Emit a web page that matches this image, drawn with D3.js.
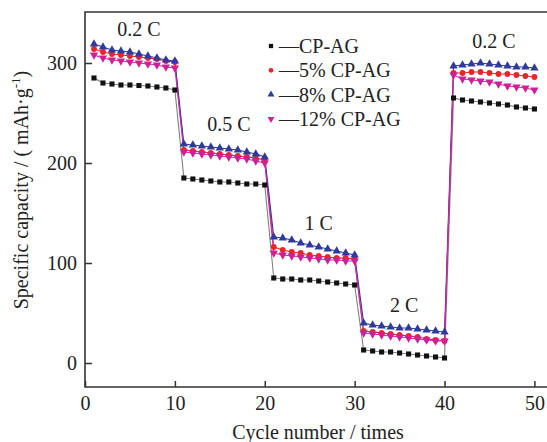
<!DOCTYPE html>
<html>
<head>
<meta charset="utf-8">
<script src="https://cdn.jsdelivr.net/npm/d3@7"></script>
<style>
  body { margin: 0; background: #fff; }
  svg text { font-family: "Liberation Serif", "DejaVu Serif", serif; fill: #222; }
</style>
</head>
<body>
<svg id="chart" width="547" height="442"></svg>
<script>
// cycle numbers 1..50
var cycles = [1,2,3,4,5,6,7,8,9,10,11,12,13,14,15,16,17,18,19,20,21,22,23,24,25,26,27,28,29,30,31,32,33,34,35,36,37,38,39,40,41,42,43,44,45,46,47,48,49,50];

var cpag = [285,280,279,278,278,277.5,277,276,275,273,
            185,184,183,182,181,181,180,179,179,178,
            85,84,84,83,83,82,81,80,79,78,
            13,12,11,11,10,9,8,7,6,5,
            265,263,262,261,260,259,258,256,255,254];
var cp5 = [314,311,309,308,307,306,305,304,302,301,
           213,212,211,210,209,208,207,206,205,203,
           116,113,111,110,108,107,106,105,105,104,
           32,31,30,29,28,27,26,24,23,22,
           290,290,291,291,290,289,289,288,287,286];
var cp8 = [319,316,313,312,311,309,307,305,303,302,
           219,218,217,216,215,214,213,211,209,206,
           126,125,123,120,118,116,114,112,110,108,
           40,38,37,36,35,35,34,33,32,31,
           297,298,299,300,299,298,297,296,296,295];
var cp12 = [308,305,303,302,301,300,299,298,296,295,
            211,210,209,208,207,206,205,204,202,200,
            110,108,107,106,105,104,103,103,102,102,
            30,29,28,27,26,25,24,23,22,22,
            288,284,283,282,281,279,277,276,275,273];

var seriesNames = ["—CP-AG", "—5% CP-AG", "—8% CP-AG", "—12% CP-AG"];
var rateLabels = ["0.2 C", "0.5 C", "1 C", "2 C", "0.2 C"];
var rateX = [6, 16, 26, 35.5, 45.5];
var rateY = [327, 232, 133, 51, 315];
var xTicks = [0,10,20,30,40,50];
var yTicks = [0,100,200,300];

var svg = d3.select("svg#chart");
var mLeft = 85, mRight = 547, mTop = 12, mBottom = 387;

var x = d3.scaleLinear().domain([0, 51.4]).range([mLeft, mRight]);
var y = d3.scaleLinear().domain([-24, 351]).range([mBottom, mTop]);

var series = [
  {vals: cpag, line: "#808080", fill: "#111", sym: d3.symbolSquare, size: 26, rot: 0},
  {vals: cp5, line: "#e8262a", fill: "#e8262a", sym: d3.symbolCircle, size: 26, rot: 0},
  {vals: cp8, line: "#3336a0", fill: "#2e3a9c", sym: d3.symbolTriangle, size: 30, rot: 0},
  {vals: cp12, line: "#d62aa6", fill: "#cf1f98", sym: d3.symbolTriangle, size: 30, rot: 180}
];

//axes
var gx = svg.append("g")
  .attr("transform", `translate(0,${mBottom})`)
  .call(d3.axisBottom(x).tickValues(xTicks).tickSize(-6).tickPadding(9).tickFormat(d3.format("d")));
gx.select(".domain").remove();
gx.selectAll("line").attr("stroke", "#333").attr("stroke-width", 1.5);
gx.selectAll("text").attr("font-size", "20px").attr("font-family", "Liberation Serif").attr("fill", "#222");

var gy = svg.append("g")
  .attr("transform", `translate(${mLeft},0)`)
  .call(d3.axisLeft(y).tickValues(yTicks).tickSize(-7).tickPadding(8).tickFormat(d3.format("d")));
gy.select(".domain").remove();
gy.selectAll("line").attr("stroke", "#333").attr("stroke-width", 1.5);
gy.selectAll("text").attr("font-size", "20px").attr("font-family", "Liberation Serif").attr("fill", "#222");

//frame
svg.append("path")
  .attr("d", `M${mRight},${mTop}H${mLeft}V${mBottom}H${mRight}`)
  .attr("fill", "none")
  .attr("stroke", "#333")
  .attr("stroke-width", 1.6);

//lines and markers
var line = d3.line().x((d,i) => x(cycles[i])).y(d => y(d));
series.forEach(function(s){
  svg.append("path")
    .datum(s.vals)
    .attr("d", line)
    .attr("fill", "none")
    .attr("stroke", s.line)
    .attr("stroke-width", 1.1);
});
series.forEach(function(s){
  svg.append("g")
    .selectAll("path")
    .data(s.vals)
    .enter().append("path")
    .attr("d", d3.symbol().type(s.sym).size(s.size))
    .attr("transform", (d,i) => `translate(${x(cycles[i])},${y(d)}) rotate(${s.rot})`)
    .attr("fill", s.fill);
});

//rate labels
svg.append("g")
  .selectAll("text")
  .data(rateLabels)
  .enter().append("text")
  .attr("x", (d,i) => x(rateX[i]))
  .attr("y", (d,i) => y(rateY[i]))
  .attr("text-anchor", "middle")
  .attr("font-size", "20px")
  .text(d => d);

//legend
var leg = svg.append("g").attr("transform", "translate(271,46)");
series.forEach(function(s, i){
  leg.append("path")
    .attr("d", d3.symbol().type(s.sym).size(s.size * 0.7))
    .attr("transform", `translate(0,${i*24.3}) rotate(${s.rot})`)
    .attr("fill", s.fill);
  leg.append("text")
    .attr("x", 8)
    .attr("y", i*24.3)
    .attr("dy", "0.35em")
    .attr("font-size", "20px")
    .text(seriesNames[i]);
});

//axis titles
svg.append("text")
  .attr("x", 318)
  .attr("y", 439)
  .attr("text-anchor", "middle")
  .attr("font-size", "20px")
  .text("Cycle number / times");

svg.append("text")
  .attr("transform", "translate(28,190) rotate(-90)")
  .attr("text-anchor", "middle")
  .attr("font-size", "20px")
  .html("Specific capacity / ( mAh·g<tspan dy='-8' font-size='13px'>-1</tspan><tspan dy='8'>)</tspan>");
</script>
</body>
</html>
